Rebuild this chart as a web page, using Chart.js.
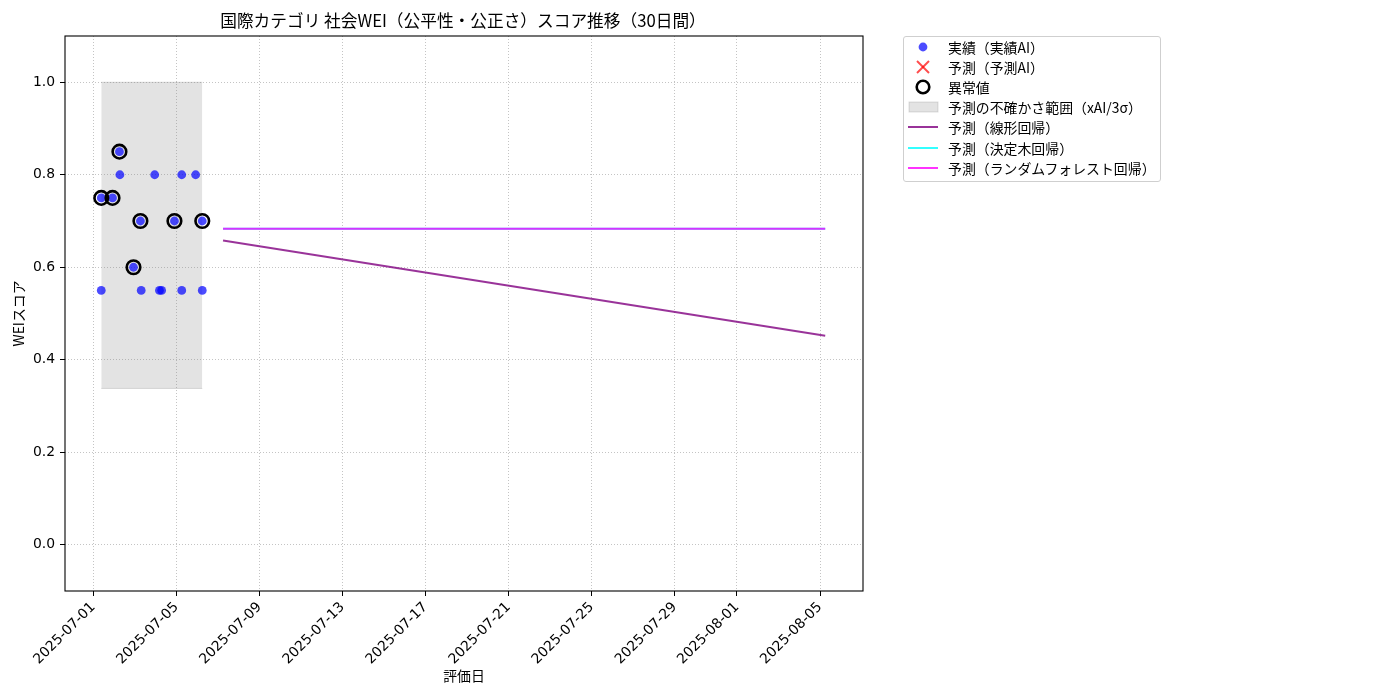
<!DOCTYPE html>
<html lang="ja">
<head>
<meta charset="utf-8">
<script src="https://cdn.jsdelivr.net/npm/chart.js@4.4.1/dist/chart.umd.min.js"></script>
<style>
  html, body { margin: 0; padding: 0; background: #fff; }
  #wrap { position: relative; width: 1400px; height: 700px; }
  #c { position: absolute; left: 0; top: 0; }
  #legend {
    position: absolute; left: 903px; top: 36px; width: 256px; height: 144px;
    border: 1px solid #cfcfcf; border-radius: 3px; background: rgba(255,255,255,0.8);
    font-family: "Noto Sans CJK JP", "Noto Sans", sans-serif; font-size: 13.9px; color: #000;
  }
  .row { position: absolute; left: 0; height: 20px; display: flex; align-items: center; }
  .row svg { width: 40px; height: 20px; flex: none; margin-left: 1px; }
  .row span { margin-left: 3px; white-space: nowrap; line-height: 20px; }
</style>
</head>
<body>
<div id="wrap">
  <canvas id="c" width="1400" height="700"></canvas>
  <div id="legend"></div>
</div>
<script>
// ---- data ----
const titleText = '国際カテゴリ 社会WEI（公平性・公正さ）スコア推移（30日間）';
const xAxisTitle = '評価日';
const yAxisTitle = 'WEIスコア';

const actualDates = [
  '2025-07-01T09:15', '2025-07-01T09:15', '2025-07-01T22:15', '2025-07-02T06:15',
  '2025-07-02T06:45', '2025-07-02T22:30', '2025-07-03T06:30', '2025-07-03T07:25',
  '2025-07-03T23:00', '2025-07-04T04:30', '2025-07-04T07:00', '2025-07-04T21:50',
  '2025-07-05T06:15', '2025-07-05T06:15', '2025-07-05T22:20', '2025-07-06T06:00',
  '2025-07-06T06:00'
];
const actualValues = [
  0.75, 0.55, 0.75, 0.85,
  0.80, 0.60, 0.70, 0.55,
  0.80, 0.55, 0.55, 0.70,
  0.80, 0.55, 0.80, 0.70,
  0.55
];

const outlierDates = [
  '2025-07-01T09:15', '2025-07-01T22:15', '2025-07-02T06:15', '2025-07-02T22:30',
  '2025-07-03T06:30', '2025-07-04T21:50', '2025-07-06T06:00'
];
const outlierValues = [0.75, 0.75, 0.85, 0.60, 0.70, 0.70, 0.70];

const predictedAIDates = [];
const predictedAIValues = [];

const bandDates = ['2025-07-01T09:15', '2025-07-06T06:00'];
const bandUpper = [1.0, 1.0];
const bandLower = [0.338, 0.338];

const forecastDates = ['2025-07-07T06:00', '2025-08-05T06:00'];
const linearValues = [0.658, 0.452];
const treeValues = [0.683, 0.683];
const forestValues = [0.683, 0.683];

const xTickLabels = ['2025-07-01', '2025-07-05', '2025-07-09', '2025-07-13', '2025-07-17',
                     '2025-07-21', '2025-07-25', '2025-07-29', '2025-08-01', '2025-08-05'];
const yTickValues = [0.0, 0.2, 0.4, 0.6, 0.8, 1.0];

const legendLabels = ['実績（実績AI）', '予測（予測AI）', '異常値', '予測の不確かさ範囲（xAI/3σ）',
                      '予測（線形回帰）', '予測（決定木回帰）', '予測（ランダムフォレスト回帰）'];

// ---- helpers ----
const toMs = s => Date.parse((s.length === 10 ? s + 'T00:00' : s) + ':00Z');
const pts = (d, v) => d.map((t, i) => ({ x: toMs(t), y: v[i] }));

const FONT = '"Noto Sans CJK JP", "Noto Sans", sans-serif';
const TICKFONT = '"DejaVu Sans"';
const C_BLUE = 'rgba(0,0,255,0.7)';
const C_PURPLE = 'rgba(128,0,128,0.8)';
const C_CYAN = 'rgba(0,255,255,0.8)';
const C_MAGENTA = 'rgba(255,0,255,0.8)';
const C_BAND = 'rgba(128,128,128,0.22)';

const framePlugin = {
  id: 'frame',
  afterDraw(chart) {
    const { ctx, chartArea: a } = chart;
    ctx.save();
    ctx.strokeStyle = '#000';
    ctx.lineWidth = 1.1;
    ctx.strokeRect(a.left, a.top, a.right - a.left, a.bottom - a.top);
    ctx.font = '16.7px ' + FONT;
    ctx.fillStyle = '#000';
    ctx.textAlign = 'center';
    ctx.textBaseline = 'middle';
    ctx.fillText(titleText, (a.left + a.right) / 2 - 1, 21);
    ctx.restore();
  }
};

Chart.defaults.font.family = FONT;
Chart.defaults.color = '#000';

new Chart(document.getElementById('c'), {
  type: 'scatter',
  data: {
    datasets: [
      { label: legendLabels[2], data: pts(outlierDates, outlierValues), order: 0,
        pointRadius: 6.8, pointHoverRadius: 6.8, pointBorderWidth: 2.6, borderWidth: 2.6,
        pointBorderColor: '#000', pointBackgroundColor: 'rgba(0,0,0,0)' },
      { label: legendLabels[0], data: pts(actualDates, actualValues), order: 1,
        pointRadius: 4.4, pointHoverRadius: 4.4, pointBorderWidth: 0,
        pointBackgroundColor: C_BLUE },
      { label: legendLabels[1], data: pts(predictedAIDates, predictedAIValues), order: 2,
        pointStyle: 'crossRot', pointRadius: 6, pointBorderColor: 'rgba(255,0,0,0.7)' },
      { type: 'line', label: legendLabels[6], data: pts(forecastDates, forestValues), order: 3,
        borderColor: C_MAGENTA, borderWidth: 2, pointRadius: 0, fill: false },
      { type: 'line', label: legendLabels[5], data: pts(forecastDates, treeValues), order: 4,
        borderColor: C_CYAN, borderWidth: 2, pointRadius: 0, fill: false },
      { type: 'line', label: legendLabels[4], data: pts(forecastDates, linearValues), order: 5,
        borderColor: C_PURPLE, borderWidth: 2, pointRadius: 0, fill: false },
      { type: 'line', label: legendLabels[3], data: pts(bandDates, bandUpper), order: 10,
        borderColor: 'rgba(128,128,128,0.25)', borderWidth: 1, pointRadius: 0,
        backgroundColor: C_BAND, fill: '+1' },
      { type: 'line', label: 'band-lower', data: pts(bandDates, bandLower), order: 11,
        borderColor: 'rgba(128,128,128,0.25)', borderWidth: 1, pointRadius: 0, fill: false }
    ]
  },
  options: {
    responsive: false,
    animation: false,
    layout: { padding: { left: 0, right: 537, top: 36, bottom: 0 } },
    plugins: {
      legend: { display: false },
      tooltip: { enabled: false },
      title: { display: false }
    },
    scales: {
      x: {
        type: 'linear',
        min: toMs('2025-06-29T15:20'),
        max: toMs('2025-08-07T01:40'),
        afterFit: s => { s.height = 109; },
        afterBuildTicks: s => { s.ticks = xTickLabels.map(l => ({ value: toMs(l) })); },
        ticks: {
          autoSkip: false, minRotation: 45, maxRotation: 45, padding: 3,
          font: { family: TICKFONT, size: 13.9 }, color: '#000',
          callback: v => new Date(v).toISOString().slice(0, 10)
        },
        grid: { color: 'rgba(176,176,176,0.75)', lineWidth: 1, tickColor: '#000', tickLength: 5, tickWidth: 1 },
        border: { display: false, dash: [1, 2] },
        title: { display: true, text: xAxisTitle, color: '#000',
                 font: { family: FONT, size: 13.9 }, padding: { top: 0, bottom: 16 } }
      },
      y: {
        min: -0.1, max: 1.1,
        afterFit: s => { s.width = 65; },
        afterBuildTicks: s => { s.ticks = yTickValues.map(v => ({ value: v })); },
        ticks: { padding: 5, font: { family: TICKFONT, size: 13.9 }, color: '#000',
                 callback: v => v.toFixed(1) },
        grid: { color: 'rgba(176,176,176,0.75)', lineWidth: 1, tickColor: '#000', tickLength: 5, tickWidth: 1 },
        border: { display: false, dash: [1, 2] },
        title: { display: true, text: yAxisTitle, color: '#000',
                 font: { family: FONT, size: 13.9 }, padding: { top: 10, bottom: 0 } }
      }
    }
  },
  plugins: [framePlugin]
});

// ---- legend (HTML) ----
const handles = [
  `<circle cx="18" cy="10" r="4.4" fill="${C_BLUE}"/>`,
  `<g stroke="rgba(255,0,0,0.7)" stroke-width="2"><line x1="12" y1="4" x2="24" y2="16"/><line x1="24" y1="4" x2="12" y2="16"/></g>`,
  `<circle cx="18" cy="10" r="6.3" fill="none" stroke="#000" stroke-width="2.6"/>`,
  `<rect x="4" y="5" width="29" height="10" fill="${C_BAND}" stroke="rgba(128,128,128,0.25)" stroke-width="1"/>`,
  `<line x1="3" y1="10" x2="33" y2="10" stroke="${C_PURPLE}" stroke-width="2"/>`,
  `<line x1="3" y1="10" x2="33" y2="10" stroke="${C_CYAN}" stroke-width="2"/>`,
  `<line x1="3" y1="10" x2="33" y2="10" stroke="${C_MAGENTA}" stroke-width="2"/>`
];
const lg = document.getElementById('legend');
legendLabels.forEach((t, i) => {
  const row = document.createElement('div');
  row.className = 'row';
  row.style.top = (0 + i * 20.1) + 'px';
  row.innerHTML = `<svg viewBox="0 0 40 20">${handles[i]}</svg><span>${t}</span>`;
  lg.appendChild(row);
});
</script>
</body>
</html>
